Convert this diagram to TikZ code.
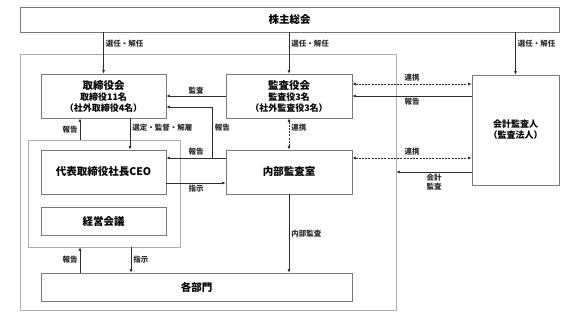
\documentclass[tikz,border=0pt]{standalone}
\usepackage{fontspec}
\setmainfont{Noto Sans CJK JP}
\usepackage{tikz}
\usetikzlibrary{arrows.meta,positioning,calc}
\definecolor{boxGray}{RGB}{120,120,120}
\definecolor{outGray}{RGB}{175,175,175}
\definecolor{lineDark}{RGB}{45,45,45}
\newcommand{\subline}[1]{{\fontsize{9}{11}\selectfont #1}}

\begin{document}
\begin{tikzpicture}[x=1pt, y=-1pt,
  box/.style={draw=boxGray, thick, fill=white, align=center, inner sep=0pt, font=\bfseries\fontsize{10.5}{11}\selectfont},
  frame/.style={draw=outGray, thick, inner sep=0pt},
  arr/.style={-{Latex[length=3.5pt,width=3pt]}, lineDark, semithick},
  link/.style={{Latex[length=3.5pt,width=3pt]}-{Latex[length=3.5pt,width=3pt]}, lineDark, semithick, dash pattern=on 2pt off 1.2pt},
  lab/.style={font=\bfseries\fontsize{7.5}{9}\selectfont, text=lineDark, inner sep=2pt, align=center}
]
  \useasboundingbox (0,0) rectangle (577,325);

  % frames
  \node[frame, minimum width=376pt, minimum height=256pt] (company) at (208,182) {};
  \node[frame, minimum width=152pt, minimum height=107pt] (group) at (104,193.5) {};

  % boxes
  \node[box, minimum width=539pt, minimum height=25pt] (share) at (289.5,19.5) {株主総会};
  \node[box, minimum width=125pt, minimum height=44pt] (board) at (103.5,96)
    {取締役会\\\subline{取締役11名}\\\subline{（社外取締役4名）}};
  \node[box, minimum width=126pt, minimum height=44pt] (kansa) at (289,96)
    {監査役会\\\subline{監査役3名}\\\subline{（社外監査役3名）}};
  \node[box, minimum width=125pt, minimum height=44pt] (ceo) at (103.5,172) {代表取締役社長CEO};
  \node[box, minimum width=125pt, minimum height=28pt] (mgmt) at (103.5,221) {経営会議};
  \node[box, minimum width=126pt, minimum height=44pt] (audit) at (289,172) {内部監査室};
  \node[box, minimum width=311pt, minimum height=28pt] (depts) at (196.5,287) {各部門};
  \node[box, minimum width=87pt, minimum height=110pt, font=\bfseries\fontsize{9}{11}\selectfont] (auditor) at (515.5,130)
    {会計監査人\\（監査法人）};

  % from shareholders
  \draw[arr] (share.south -| board.north) -- node[lab, right, pos=0.27] {選任・解任} (board.north);
  \draw[arr] (share.south -| kansa.north) -- node[lab, right, pos=0.27] {選任・解任} (kansa.north);
  \draw[arr] (share.south -| auditor.north) -- node[lab, right, pos=0.27] {選任・解任} (auditor.north);

  % board and executives
  \draw[arr] (kansa.west) -- node[lab, above] {監査} (board.east);
  \draw[arr] ([xshift=26.5pt]board.south) -- node[lab, right, pos=0.3] {選定・監督・解雇} ([xshift=26.5pt]board.south |- ceo.north);
  \draw[arr] ([xshift=-24pt]group.north) -- node[lab, left, pos=0.45] {報告} ([xshift=-24pt]group.north |- board.south);
  \draw[arr] ([yshift=14pt]audit.west) -- node[lab, above] {報告} ([yshift=14pt]audit.west -| ceo.east);
  \draw[arr] ([yshift=14pt]audit.west) ++(-13,0) |- node[lab, right, pos=0.3] {報告} ([yshift=-11pt]board.east);
  \draw[arr] ([yshift=-11pt]ceo.east) -- node[lab, below] {指示} ([yshift=-11pt]ceo.east -| audit.west);

  % audit links
  \draw[link] (kansa.south) -- node[lab, right, pos=0.3] {連携} (audit.north);
  \draw[link] ([yshift=12pt]kansa.east) -- node[lab, above] {連携} ([yshift=12pt]kansa.east -| auditor.west);
  \draw[arr] (auditor.west |- kansa.east) -- node[lab, below] {報告} (kansa.east);
  \draw[link] ([yshift=14pt]audit.east) -- node[lab, above] {連携} ([yshift=14pt]audit.east -| auditor.west);
  \draw[arr] (auditor.west |- audit.east) -- node[lab, below] {会計\\監査} (company.east |- audit.east);

  % down to departments
  \draw[arr] (audit.south) -- node[lab, right] {内部監査} (audit.south |- depts.north);
  \draw[arr] ([xshift=27pt]group.south) -- node[lab, right] {指示} ([xshift=27pt]group.south |- depts.north);
  \draw[arr] ([xshift=-24pt]group.south |- depts.north) -- node[lab, left] {報告} ([xshift=-24pt]group.south);
\end{tikzpicture}
\end{document}
